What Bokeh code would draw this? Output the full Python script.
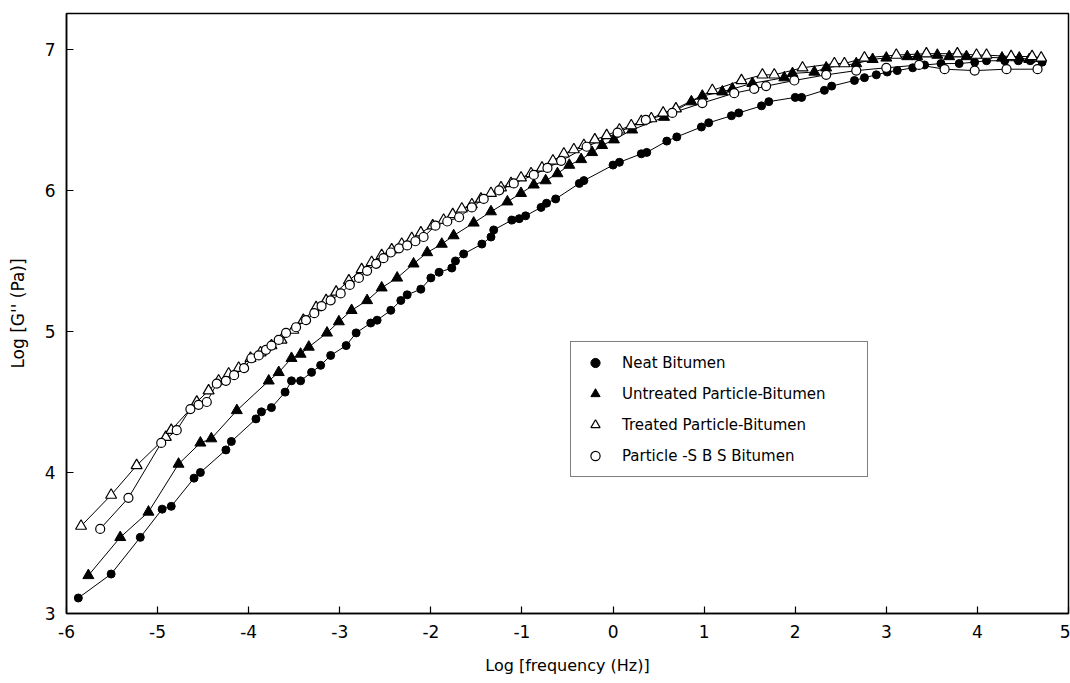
from bokeh.plotting import figure
from bokeh.models import FixedTicker, Legend, LegendItem, Range1d
from bokeh.embed import file_html
from bokeh.resources import INLINE

# ---------------- data ----------------
neat_x = [-5.87, -5.51, -5.19, -4.95, -4.85, -4.60, -4.53, -4.25, -4.19, -3.92, -3.86, -3.75,
          -3.60, -3.53, -3.43, -3.31, -3.21, -3.10, -2.93, -2.82, -2.66, -2.59, -2.44, -2.33,
          -2.26, -2.11, -2.00, -1.91, -1.77, -1.73, -1.64, -1.44, -1.34, -1.31, -1.11, -1.03,
          -0.96, -0.79, -0.73, -0.63, -0.37, -0.32, 0.00, 0.07, 0.31, 0.37, 0.59, 0.70,
          0.97, 1.05, 1.30, 1.38, 1.63, 1.71, 2.00, 2.07, 2.32, 2.40, 2.65, 2.76,
          2.89, 3.01, 3.12, 3.29, 3.42, 3.60, 3.80, 3.97, 4.10, 4.30, 4.45, 4.58, 4.71]
neat_y = [3.11, 3.28, 3.54, 3.74, 3.76, 3.96, 4.00, 4.16, 4.22, 4.38, 4.43, 4.46,
          4.57, 4.65, 4.65, 4.71, 4.76, 4.83, 4.90, 4.99, 5.06, 5.08, 5.15, 5.22,
          5.26, 5.30, 5.38, 5.42, 5.45, 5.50, 5.55, 5.62, 5.67, 5.72, 5.79, 5.80,
          5.82, 5.88, 5.91, 5.94, 6.05, 6.07, 6.18, 6.20, 6.26, 6.27, 6.35, 6.38,
          6.45, 6.48, 6.53, 6.55, 6.60, 6.63, 6.66, 6.66, 6.71, 6.74, 6.78, 6.80,
          6.82, 6.84, 6.85, 6.87, 6.89, 6.90, 6.90, 6.91, 6.92, 6.92, 6.92, 6.92, 6.91]

untreated_x = [-5.76, -5.41, -5.10, -4.77, -4.53, -4.41, -4.13, -3.78, -3.67, -3.53, -3.43, -3.34,
               -3.14, -3.01, -2.87, -2.70, -2.54, -2.37, -2.19, -2.04, -1.88, -1.75, -1.53, -1.34,
               -1.16, -1.01, -0.87, -0.74, -0.61, -0.48, -0.35, -0.23, -0.12, 0.01, 0.21, 0.56,
               0.86, 0.98, 1.20, 1.31, 1.53, 1.88, 1.97, 2.21, 2.34, 2.67, 2.85, 3.00,
               3.23, 3.34, 3.56, 3.69, 3.88, 4.27, 4.46, 4.57]
untreated_y = [3.27, 3.54, 3.72, 4.06, 4.21, 4.24, 4.44, 4.65, 4.71, 4.81, 4.84, 4.89,
               4.99, 5.07, 5.15, 5.22, 5.31, 5.38, 5.48, 5.56, 5.62, 5.68, 5.77, 5.85,
               5.92, 5.98, 6.04, 6.07, 6.12, 6.18, 6.22, 6.27, 6.32, 6.36, 6.43, 6.52,
               6.63, 6.67, 6.70, 6.72, 6.76, 6.80, 6.83, 6.84, 6.87, 6.90, 6.93, 6.94,
               6.95, 6.95, 6.96, 6.95, 6.95, 6.94, 6.94, 6.93]

treated_x = [-5.84, -5.51, -5.23, -4.91, -4.85, -4.57, -4.44, -4.33, -4.22, -4.11, -3.98, -3.87,
             -3.75, -3.64, -3.51, -3.40, -3.26, -3.15, -3.04, -2.90, -2.76, -2.65, -2.54, -2.43,
             -2.32, -2.21, -2.11, -1.98, -1.86, -1.76, -1.66, -1.55, -1.45, -1.34, -1.23, -1.12,
             -1.01, -0.90, -0.78, -0.66, -0.54, -0.43, -0.32, -0.20, -0.07, 0.07, 0.20, 0.31,
             0.42, 0.55, 0.69, 1.09, 1.41, 1.64, 1.77, 2.08, 2.43, 2.54, 2.76, 3.11,
             3.44, 3.78, 3.99, 4.10, 4.37, 4.60, 4.70]
treated_y = [3.62, 3.84, 4.05, 4.25, 4.30, 4.50, 4.58, 4.65, 4.70, 4.74, 4.81, 4.85,
             4.90, 4.94, 5.01, 5.08, 5.17, 5.22, 5.28, 5.36, 5.44, 5.49, 5.54, 5.58,
             5.62, 5.66, 5.70, 5.75, 5.79, 5.83, 5.87, 5.90, 5.94, 5.98, 6.02, 6.05,
             6.09, 6.12, 6.16, 6.21, 6.26, 6.29, 6.32, 6.36, 6.39, 6.43, 6.46, 6.49,
             6.51, 6.55, 6.58, 6.71, 6.78, 6.82, 6.82, 6.87, 6.90, 6.90, 6.94, 6.96,
             6.97, 6.97, 6.96, 6.96, 6.95, 6.95, 6.94]

sbs_x = [-5.63, -5.32, -4.96, -4.79, -4.64, -4.55, -4.46, -4.35, -4.25, -4.16, -4.05, -3.97,
         -3.89, -3.81, -3.75, -3.67, -3.59, -3.48, -3.37, -3.28, -3.20, -3.10, -2.99, -2.89,
         -2.79, -2.70, -2.60, -2.52, -2.44, -2.35, -2.26, -2.17, -2.08, -1.95, -1.82, -1.69,
         -1.55, -1.42, -1.25, -1.09, -0.87, -0.72, -0.57, -0.29, 0.05, 0.36, 0.65, 0.98,
         1.33, 1.55, 1.68, 1.99, 2.34, 2.67, 3.00, 3.36, 3.64, 3.97, 4.32, 4.66]
sbs_y = [3.60, 3.82, 4.21, 4.30, 4.45, 4.48, 4.50, 4.63, 4.65, 4.69, 4.74, 4.81,
         4.83, 4.87, 4.90, 4.94, 4.99, 5.03, 5.08, 5.13, 5.18, 5.22, 5.27, 5.33,
         5.38, 5.43, 5.48, 5.52, 5.56, 5.59, 5.61, 5.64, 5.67, 5.75, 5.78, 5.81,
         5.88, 5.94, 6.00, 6.05, 6.11, 6.16, 6.21, 6.31, 6.41, 6.50, 6.55, 6.62,
         6.69, 6.72, 6.74, 6.78, 6.82, 6.85, 6.87, 6.89, 6.86, 6.85, 6.86, 6.86]

x_ticks = [-6, -5, -4, -3, -2, -1, 0, 1, 2, 3, 4, 5]
y_ticks = [3, 4, 5, 6, 7]
labels = ["Neat Bitumen", "Untreated Particle-Bitumen",
          "Treated Particle-Bitumen", "Particle -S B S Bitumen"]

# ---------------- figure ----------------
FONT = "DejaVu Sans"
p = figure(width=1070, height=683, output_backend="svg", toolbar_location=None,
           x_range=Range1d(-6.0, 5.0), y_range=Range1d(3.0, 7.255),
           min_border_left=66, min_border_right=2, min_border_top=13, min_border_bottom=70)
p.background_fill_color = "white"
p.border_fill_color = "white"
p.outline_line_color = "black"
p.outline_line_width = 1.5
p.grid.visible = False

for ax, ticks in ((p.xaxis, x_ticks), (p.yaxis, y_ticks)):
    ax.ticker = FixedTicker(ticks=ticks)
    ax.major_label_overrides = {t: str(t) for t in ticks}
    ax.minor_tick_line_color = None
    ax.major_tick_in = 7
    ax.major_tick_out = 0
    ax.major_tick_line_color = "black"
    ax.major_tick_line_width = 1.2
    ax.axis_line_color = "black"
    ax.axis_line_width = 1.5
    ax.major_label_text_font = FONT
    ax.major_label_text_font_size = "17px"
    ax.major_label_text_color = "black"
    ax.axis_label_text_font = FONT
    ax.axis_label_text_font_size = "16px"
    ax.axis_label_text_font_style = "normal"
    ax.axis_label_text_color = "black"

p.xaxis.major_label_standoff = 11
p.yaxis.major_label_standoff = 11
p.xaxis.axis_label = "Log [frequency (Hz)]"
p.yaxis.axis_label = "Log [G'' (Pa)]"
p.yaxis.axis_label_text_font_size = "17px"
p.xaxis.axis_label_standoff = 15
p.yaxis.axis_label_standoff = 14

# lines
for xs, ys in ((neat_x, neat_y), (untreated_x, untreated_y),
               (treated_x, treated_y), (sbs_x, sbs_y)):
    p.line(xs, ys, line_color="black", line_width=1)

# markers
r_neat = p.scatter(neat_x, neat_y, marker="circle", size=8,
                   fill_color="black", line_color="black")
r_untr = p.scatter(untreated_x, untreated_y, marker="triangle", size=11,
                   fill_color="black", line_color="black")
r_trt = p.scatter(treated_x, treated_y, marker="triangle", size=11,
                  fill_color="white", line_color="black", line_width=1.2)
r_sbs = p.scatter(sbs_x, sbs_y, marker="circle", size=9,
                  fill_color="white", line_color="black", line_width=1.2)

legend = Legend(items=[LegendItem(label=labels[0], renderers=[r_neat]),
                       LegendItem(label=labels[1], renderers=[r_untr]),
                       LegendItem(label=labels[2], renderers=[r_trt]),
                       LegendItem(label=labels[3], renderers=[r_sbs])],
                location=(504, 136))
legend.border_line_color = "black"
legend.border_line_width = 1
legend.background_fill_color = "white"
legend.background_fill_alpha = 1
legend.label_text_font = FONT
legend.label_text_font_size = "15px"
legend.label_text_color = "black"
legend.glyph_width = 30
legend.glyph_height = 23
legend.label_height = 23
legend.label_width = 236
legend.label_standoff = 12
legend.spacing = 8
legend.padding = 9
legend.margin = 0
p.add_layout(legend)

open("out.html", "w").write(file_html(p, INLINE))
